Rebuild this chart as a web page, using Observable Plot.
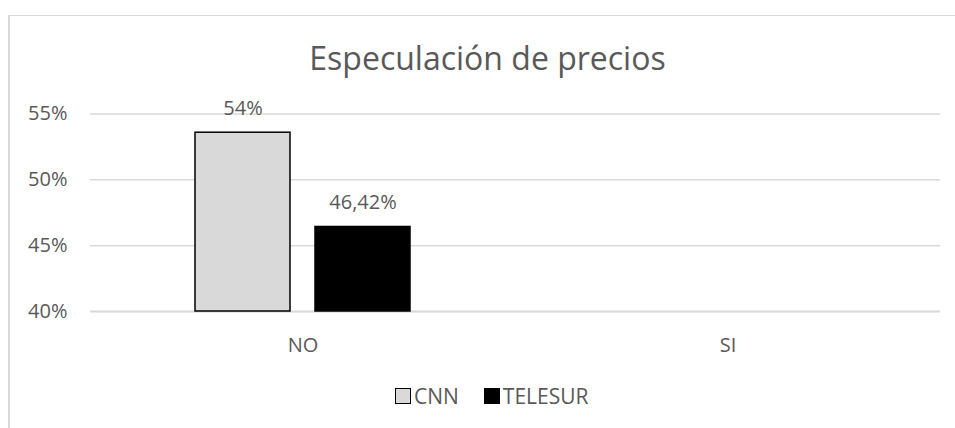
<!DOCTYPE html>
<html>
<head>
<meta charset="utf-8">
<script src="https://cdn.jsdelivr.net/npm/d3@7"></script>
<script src="https://cdn.jsdelivr.net/npm/@observablehq/plot@0.6"></script>
<style>
  html, body { margin: 0; padding: 0; background: #fff; }
  body { position: relative; width: 955px; height: 428px; overflow: hidden; font-family: "Open Sans", sans-serif; }
  #frame { position: absolute; left: 8px; top: 15px; width: 2000px; height: 2000px;
           border-left: 2px solid #d9d9d9; border-top: 1px solid #d9d9d9; }
  #title { position: absolute; left: 0; top: 42px; width: 975px; text-align: center;
           font-size: 32px; line-height: 32px; color: #595959; }
  #chart { position: absolute; left: 0; top: 90px; }
  #legend { position: absolute; left: 395px; top: 386px; height: 20px; display: flex; align-items: center;
            font-size: 21px; line-height: 20px; color: #595959; }
  .sw { width: 16px; height: 16px; box-sizing: border-box; margin-right: 3px; }
  .item { display: flex; align-items: center; margin-right: 25px; }
</style>
</head>
<body>
<div id="frame"></div>
<div id="title">Especulación de precios</div>
<div id="chart"></div>
<div id="legend"></div>
<script>
const categories = ["NO", "SI"];
const series = ["CNN", "TELESUR"];
const cnnValues = [53.58, null];
const telesurValues = [46.42, null];
const cnnLabels = ["54%", null];
const telesurLabels = ["46,42%", null];
const yDomain = [40, 55];
const yTicks = [40, 45, 50, 55];
const seriesColors = ["#d9d9d9", "#000000"];

const rows = [];
categories.forEach((c, i) => {
  rows.push({category: c, series: "CNN", value: cnnValues[i], label: cnnLabels[i]});
  rows.push({category: c, series: "TELESUR", value: telesurValues[i], label: telesurLabels[i]});
});
const shown = rows.filter(d => d.value != null);

const plot = Plot.plot({
  width: 955,
  height: 270,
  marginLeft: 90,
  marginRight: 15,
  marginTop: 23.5,
  marginBottom: 49,
  style: {fontFamily: "Open Sans, sans-serif", color: "#595959", background: "transparent"},
  fx: {domain: categories, padding: 0, label: null},
  x: {domain: series, paddingInner: 0.207, paddingOuter: 0.86, axis: null},
  y: {domain: yDomain, label: null},
  color: {domain: series, range: seriesColors},
  marks: [
    Plot.ruleY(yTicks, {stroke: "#d9d9d9", strokeWidth: 1.5}),
    Plot.axisY({ticks: yTicks, tickSize: 0, tickPadding: 23, fontSize: 20, fill: "#595959",
                tickFormat: d => d + "%", label: null}),
    Plot.axisFx({anchor: "bottom", tickSize: 0, tickPadding: 26, fontSize: 20, fill: "#595959", label: null}),
    // all rows are faceted so the empty SI panel is still laid out
    Plot.ruleY(rows, {fx: "category", y: d => yDomain[0], stroke: "#d9d9d9", strokeWidth: 1.5}),
    Plot.barY(shown, {fx: "category", x: "series", y1: d => yDomain[0], y2: "value",
                     fill: "series", stroke: "#000", strokeWidth: 1.5}),
    Plot.text(shown, {fx: "category", x: "series", y: "value", text: "label", dy: -24,
                     fontSize: 20, fill: "#595959"})
  ]
});
document.getElementById("chart").appendChild(plot);

const legend = document.getElementById("legend");
series.forEach((s, i) => {
  const item = document.createElement("div");
  item.className = "item";
  const sw = document.createElement("div");
  sw.className = "sw";
  sw.style.background = seriesColors[i];
  sw.style.border = "1.5px solid #000";
  const t = document.createElement("span");
  t.textContent = s;
  item.appendChild(sw);
  item.appendChild(t);
  legend.appendChild(item);
});
</script>
</body>
</html>
